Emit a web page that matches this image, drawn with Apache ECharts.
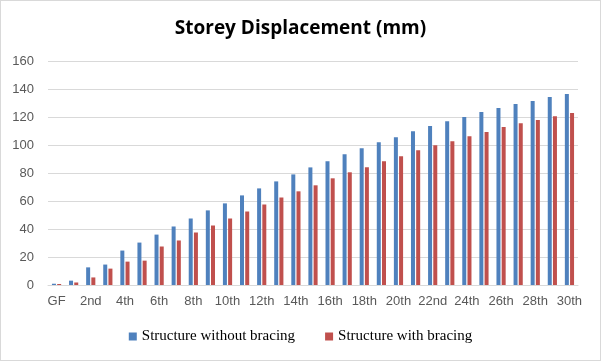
<!DOCTYPE html>
<html><head><meta charset="utf-8">
<script src="https://cdn.jsdelivr.net/npm/echarts@6/dist/echarts.min.js"></script>
<style>html,body{margin:0;padding:0;background:#fff}#c{width:599px;height:359px;border:1px solid #d9d9d9}</style>
</head><body><div id="c"></div>
<script>
const categories = ["GF","1st","2nd","3rd","4th","5th","6th","7th","8th","9th","10th","11th","12th","13th","14th","15th","16th","17th","18th","19th","20th","21st","22nd","23rd","24th","25th","26th","27th","28th","29th","30th"];
const withoutBracing = [0.9,3.1,12.6,14.6,24.6,30.3,36,41.8,47.5,53.3,58.3,64,69,74,79,84,88.4,93.4,97.7,102,105.6,109.9,113.5,117,120,123.5,126.4,129.3,131.4,134.3,136.4];
const withBracing = [0.7,1.8,5.4,11.7,16.7,17.4,27.5,31.8,37.5,42.5,47.5,52.5,57.5,62.5,66.9,71.2,76.2,80.5,84.1,88.4,92,96.3,99.8,102.7,106.3,109.2,112.8,115.6,117.8,120.6,122.8];
const yTicks = {min:0, max:160, interval:20};

const chart = echarts.init(document.getElementById('c'));
chart.setOption({
  animation:false,
  title:{text:'Storey Displacement (mm)', left:'center', top:13,
    textStyle:{fontFamily:'Open Sans', fontSize:19, fontWeight:'bold', color:'#000'}},
  legend:{bottom:11, left:'center', itemWidth:8, itemHeight:8, itemGap:30, icon:'rect',
    textStyle:{fontFamily:'Liberation Serif', fontSize:15, color:'#000'}},
  grid:{left:47, right:22, top:60, bottom:75},
  xAxis:{type:'category', data:categories,
    axisLine:{lineStyle:{color:'#d9d9d9'}}, axisTick:{show:false},
    axisLabel:{interval:1, color:'#595959', fontSize:13, fontFamily:'Liberation Sans', margin:10}},
  yAxis:{type:'value', min:yTicks.min, max:yTicks.max, interval:yTicks.interval,
    axisLine:{show:false}, axisTick:{show:false},
    splitLine:{lineStyle:{color:'#d9d9d9'}},
    axisLabel:{color:'#595959', fontSize:13, fontFamily:'Liberation Sans', margin:14}},
  series:[
    {name:'Structure without bracing', type:'bar', data:withoutBracing, barWidth:4, barGap:'30%', itemStyle:{color:'#4F81BD'}},
    {name:'Structure with bracing', type:'bar', data:withBracing, barWidth:4, itemStyle:{color:'#C0504D'}}
  ]
});
</script></body></html>
